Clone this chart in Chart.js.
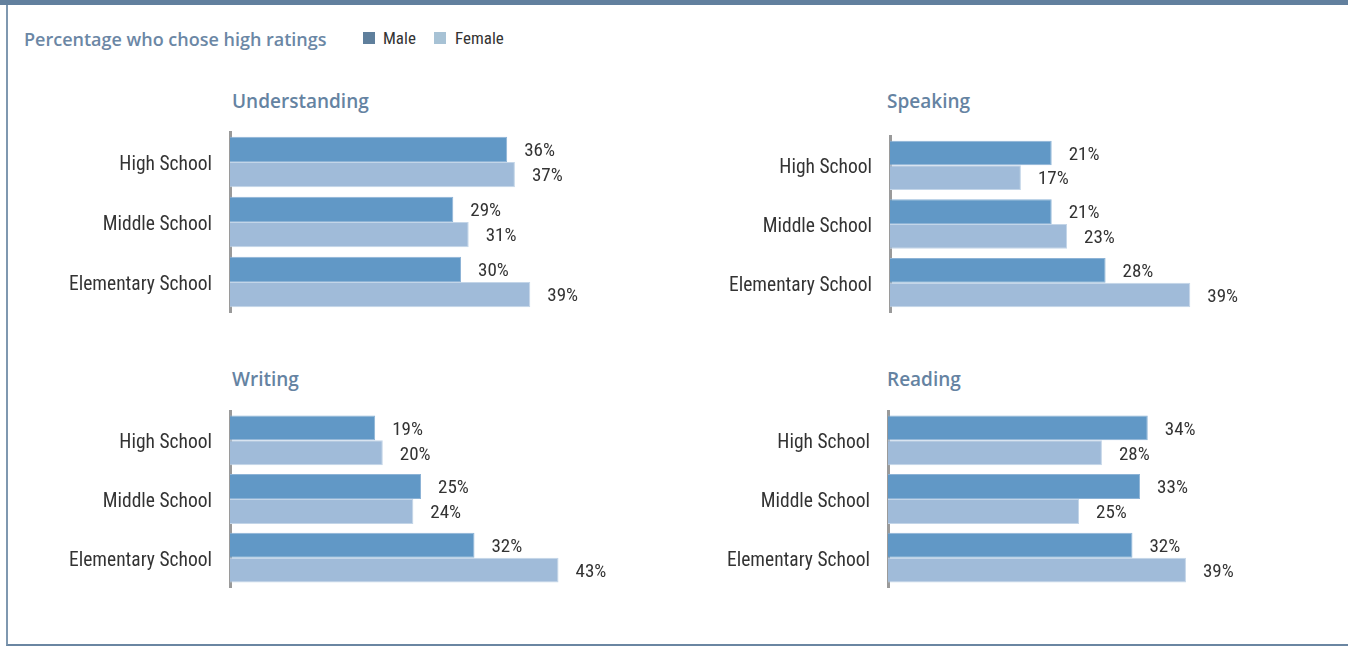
<!DOCTYPE html>
<html>
<head>
<title>Percentage who chose high ratings</title>
<script src="https://cdn.jsdelivr.net/npm/chart.js"></script>
<style>
  body { margin: 0; background: #fff; width: 1348px; height: 650px; position: relative; overflow: hidden; }
  .topbar { position: absolute; left: 0; top: 0; width: 1348px; height: 5px; background: #62809e; }
  .frame { position: absolute; left: 6px; top: 5px; width: 1342px; height: 641px; border-left: 2px solid #7f98b0; border-bottom: 2px solid #6a86a2; box-sizing: border-box; }
  .header { position: absolute; left: 24px; top: 27px; font: 600 18px "Open Sans", sans-serif; color: #6b87a5; white-space: nowrap; }
  .legend { position: absolute; top: 28px; font: 400 17px Roboto, sans-serif; font-stretch: condensed; color: #333; }
  .sw { position: absolute; top: 4px; width: 12px; height: 12px; }
  .title { position: absolute; font: 600 19px "Open Sans", sans-serif; color: #6583a2; }
  canvas { position: absolute; }
</style>
</head>
<body>
<div class="topbar"></div>
<div class="frame"></div>
<div class="header">Percentage who chose high ratings</div>
<div class="legend" style="left:363px"><span class="sw" style="left:0;background:#5f7f9c"></span><span style="position:absolute;left:20px;white-space:nowrap">Male</span></div>
<div class="legend" style="left:434px"><span class="sw" style="left:0;background:#a7c2d5"></span><span style="position:absolute;left:21px;white-space:nowrap">Female</span></div>

<div class="title" style="left:232px;top:88px">Understanding</div>
<div class="title" style="left:887px;top:88px">Speaking</div>
<div class="title" style="left:232px;top:366px">Writing</div>
<div class="title" style="left:887px;top:366px">Reading</div>

<canvas id="understanding"></canvas>
<canvas id="speaking"></canvas>
<canvas id="writing"></canvas>
<canvas id="reading"></canvas>

<script>
// data
const categories = ['High School', 'Middle School', 'Elementary School'];
const seriesNames = ['Male', 'Female'];
const understandingMale = [36, 29, 30];
const understandingFemale = [37, 31, 39];
const speakingMale = [21, 21, 28];
const speakingFemale = [17, 23, 39];
const writingMale = [19, 25, 32];
const writingFemale = [20, 24, 43];
const readingMale = [34, 33, 32];
const readingFemale = [28, 25, 39];

// подписи значений справа от столбцов
const valueLabels = {
    id: 'valueLabels',
    afterDatasetsDraw(chart) {
        const ctx = chart.ctx;
        ctx.save();
        ctx.font = 'condensed 19px Roboto, sans-serif';
        ctx.fillStyle = '#333';
        ctx.textAlign = 'left';
        ctx.textBaseline = 'middle';
        chart.data.datasets.forEach((ds, i) => {
            chart.getDatasetMeta(i).data.forEach((bar, j) => {
                ctx.fillText(ds.data[j] + '%', bar.x + 17, bar.y + 2);
            });
        });
        ctx.restore();
    }
};

function makePanel(id, male, female, box) {
    const cv = document.getElementById(id);
    cv.style.left = box.left + 'px';
    cv.style.top = box.top + 'px';
    cv.width = box.width;
    cv.height = box.height;
    cv.style.width = box.width + 'px';
    cv.style.height = box.height + 'px';
    new Chart(cv, {
        type: 'bar',
        data: {
            labels: categories,
            datasets: [{
                label: seriesNames[0],
                data: male,
                backgroundColor: '#6198c6',
                borderColor: '#8db3d6',
                borderWidth: 1,
                categoryPercentage: box.cat,
                barPercentage: 1
            }, {
                label: seriesNames[1],
                data: female,
                backgroundColor: '#a0bbd9',
                borderColor: '#c3d5e8',
                borderWidth: 1,
                categoryPercentage: box.cat,
                barPercentage: 1
            }]
        },
        options: {
            indexAxis: 'y',
            responsive: false,
            animation: false,
            layout: { padding: { top: 10, bottom: 10, right: box.padRight, left: 0 } },
            plugins: { legend: { display: false }, tooltip: { enabled: false } },
            scales: {
                x: { display: false, min: 0, max: 50 },
                y: {
                    grid: { display: false, drawTicks: false },
                    border: { display: true, color: '#9a9a9a', width: 3 },
                    ticks: { color: '#333', padding: 18, labelOffset: 3, font: { family: 'Roboto, sans-serif', size: 19.5, weight: 'condensed' } },
                    afterFit(scale) {
                        scale.width = 210;
                        scale.paddingTop = 0;
                        scale.paddingBottom = 0;
                    }
                }
            }
        },
        plugins: [valueLabels]
    });
}

makePanel('understanding', understandingMale, understandingFemale,
    { left: 20, top: 122, width: 600, height: 200, padRight: 5, cat: 0.84 });
makePanel('speaking', speakingMale, speakingFemale,
    { left: 680, top: 126, width: 600, height: 196, padRight: 5, cat: 0.84 });
makePanel('writing', writingMale, writingFemale,
    { left: 20, top: 401, width: 600, height: 196, padRight: 8, cat: 0.85 });
makePanel('reading', readingMale, readingFemale,
    { left: 678, top: 401, width: 600, height: 196, padRight: 8, cat: 0.85 });
</script>
</body>
</html>
